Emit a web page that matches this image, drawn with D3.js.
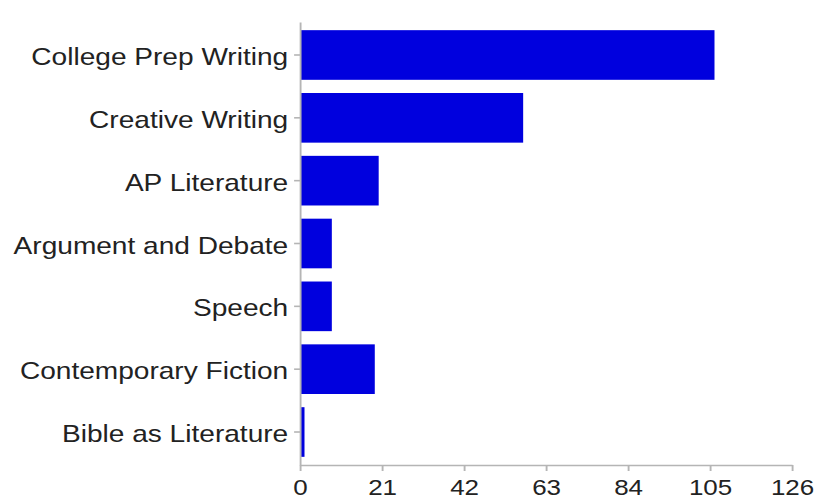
<!DOCTYPE html>
<html>
<head>
<meta charset="utf-8">
<script src="https://cdn.jsdelivr.net/npm/d3@7"></script>
<style>
  html, body { margin: 0; padding: 0; background: #fff; }
  svg { display: block; }
  text { font-family: "Liberation Sans", Arial, Helvetica, sans-serif; fill: #222; }
</style>
</head>
<body>
<svg id="chart"></svg>
<script>
// chart values
var courses = ["College Prep Writing", "Creative Writing", "AP Literature",
               "Argument and Debate", "Speech", "Contemporary Fiction", "Bible as Literature"];
var counts = [106, 57, 20, 8, 8, 19, 1];
var xTicks = [0, 21, 42, 63, 84, 105, 126];

var pxW = 817, pxH = 499;
// the reference looks stretched sideways, so draw in a narrower viewBox
var stretch = 1.18;
var vbW = pxW / stretch;

var rows = courses.map((c, i) => ({ course: c, count: counts[i] }));

var svg = d3.select("#chart")
    .attr("width", pxW).attr("height", pxH)
    .attr("viewBox", "0 0 " + vbW + " " + pxH)
    .attr("preserveAspectRatio", "none");

var left = 300 / stretch, right = 792 / stretch;
var axisY = 465;

var scX = d3.scaleLinear()
    .domain([0, 126])
    .range([left, right]);

var scY = d3.scaleBand()
    .domain(courses)
    .range([22, axisY])
    .paddingInner(0.21)
    .paddingOuter(0.13);

// bars
svg.append("g").attr("id", "bars")
    .selectAll("rect")
    .data(rows).enter().append("rect")
    .attr("x", scX(0) + 0.5)
    .attr("y", d => scY(d.course))
    .attr("width", d => scX(d.count) - scX(0))
    .attr("height", scY.bandwidth())
    .attr("fill", "#0000de");

// y axis
var gy = svg.append("g")
    .attr("transform", "translate(" + left + ",0)")
    .call(d3.axisLeft(scY).tickSize(5).tickPadding(5).tickSizeOuter(0));
gy.selectAll("text").style("font-size", "23.8px").attr("dy", "0.42em");

// x axis
var gx = svg.append("g")
    .attr("transform", "translate(0," + axisY + ")")
    .call(d3.axisBottom(scX).tickValues(xTicks).tickSize(6).tickPadding(8).tickSizeOuter(0));
gx.selectAll("text").style("font-size", "22px");

svg.selectAll(".domain, .tick line")
    .attr("stroke", "#b5b5b5")
    .attr("stroke-width", 1.6);
</script>
</body>
</html>
